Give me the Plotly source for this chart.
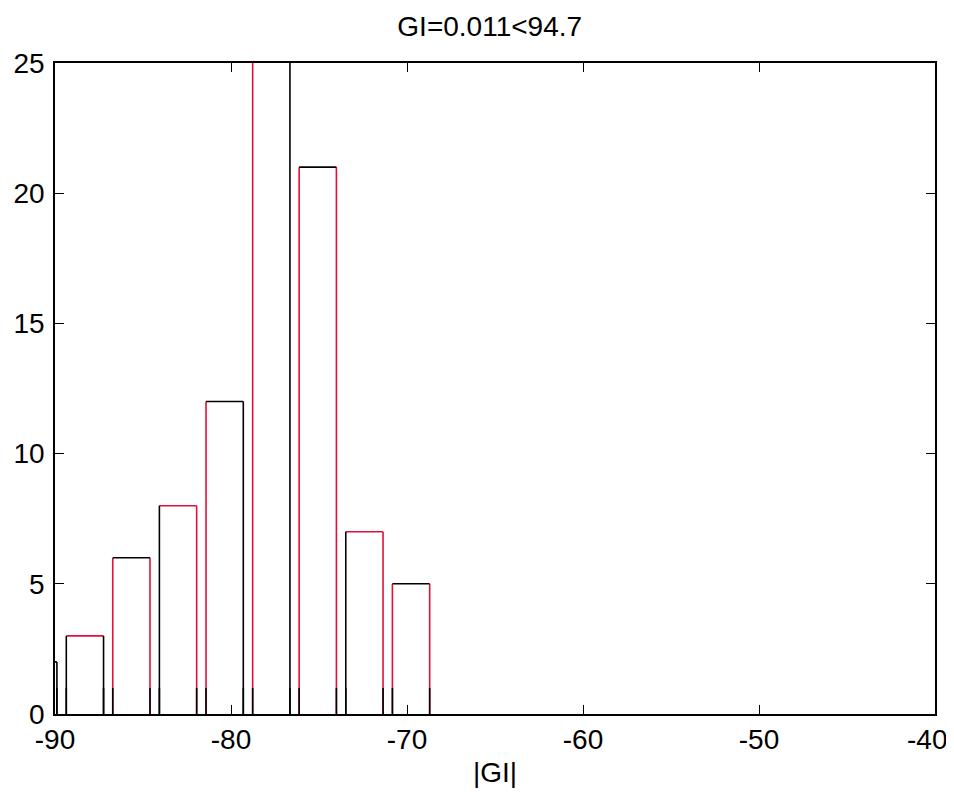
import plotly.graph_objects as go

# Histogram data
centers = [-90.95, -88.30, -85.66, -83.01, -80.36, -77.71, -75.07, -72.42, -69.77]
counts = [2, 3, 6, 8, 12, 29, 21, 7, 5]
bar_width_frac = 0.8
spacing = 2.647
# edge colours per bar: (left, top, right)
edge_colors = [
    ("black", "black", "black"),
    ("black", "red", "black"),
    ("red", "black", "red"),
    ("black", "red", "red"),
    ("red", "black", "black"),
    ("red", "black", "black"),
    ("red", "black", "red"),
    ("black", "red", "red"),
    ("red", "black", "red"),
]
base_black = 1.0  # lower portion of each edge drawn black

xticks = [-90, -80, -70, -60, -50, -40]
xticklabels = ["-90", "-80", "-70", "-60", "-50", "-40\u00a0\u00a0"]
yticks = [0, 5, 10, 15, 20, 25]
yticklabels = ["0", "5", "10", "15", "20", "25"]

RED = "#e0103a"
segs = {"black": ([], []), "red": ([], [])}

def add(col, xs, ys):
    sx, sy = segs[col]
    sx.extend(xs + [None])
    sy.extend(ys + [None])

w = bar_width_frac * spacing
for c, h, (cl, ct, cr) in zip(centers, counts, edge_colors):
    x0, x1 = c - w / 2, c + w / 2
    add(cl, [x0, x0], [0, h])
    add(cr, [x1, x1], [0, h])
    add(ct, [x0, x1], [h, h])
    add("black", [x0, x0], [0, min(base_black, h)])
    add("black", [x1, x1], [0, min(base_black, h)])

fig = go.Figure()
fig.add_trace(go.Scatter(x=segs["red"][0], y=segs["red"][1], mode="lines",
                         line=dict(color=RED, width=1.6), hoverinfo="skip"))
fig.add_trace(go.Scatter(x=segs["black"][0], y=segs["black"][1], mode="lines",
                         line=dict(color="black", width=1.6), hoverinfo="skip"))

font = dict(family="Liberation Sans, Arial", size=28, color="black")
fig.update_layout(
    width=946, height=786,
    margin=dict(l=47, r=19, t=55, b=80, autoexpand=False),
    paper_bgcolor="white", plot_bgcolor="white",
    showlegend=False,
    font=font,
    title=dict(text="GI=0.011<94.7", x=0.494, xref="paper", xanchor="center",
               y=1 - 18 / 786, yref="container", yanchor="middle", font=font),
    xaxis=dict(range=[-90, -40], tickvals=xticks, ticktext=xticklabels,
               ticks="inside", ticklen=9, ticklabeloverflow="allow",
               tickcolor="black", showline=True, linecolor="black", linewidth=1.5,
               mirror="ticks", showgrid=False, zeroline=False, automargin=False,
               title=dict(text="|GI|", standoff=8, font=font), tickfont=font),
    yaxis=dict(range=[0, 25], tickvals=yticks, ticktext=yticklabels,
               ticks="inside", ticklen=9, ticklabelstandoff=3, automargin=False,
               tickcolor="black", showline=True, linecolor="black", linewidth=1.5,
               mirror="ticks", showgrid=False, zeroline=False, tickfont=font),
)
fig.write_html("out.html")
